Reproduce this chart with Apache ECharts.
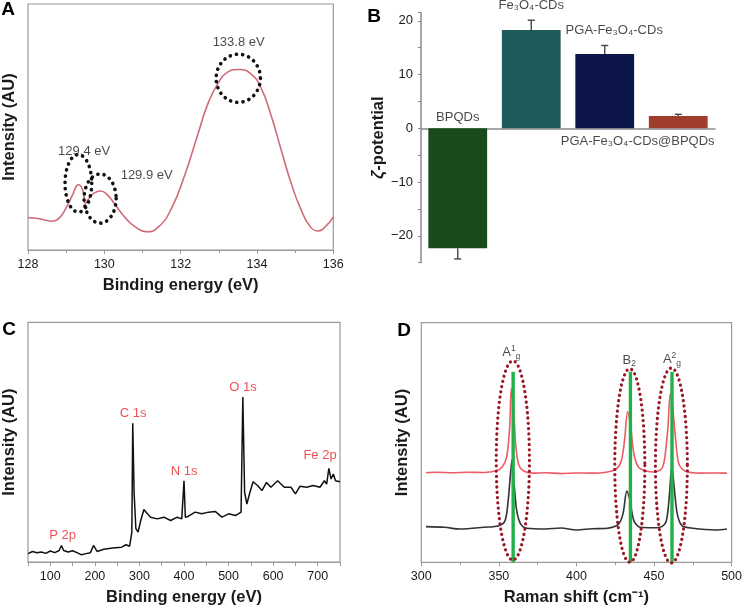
<!DOCTYPE html>
<html>
<head>
<meta charset="utf-8">
<script src="https://cdn.jsdelivr.net/npm/echarts@6.0.0/dist/echarts.min.js"></script>
<style>
html, body { margin: 0; padding: 0; background: #fff; }
#chart { width: 745px; height: 609px; }
</style>
</head>
<body>
<div id="chart"></div>
<script>
let chart = echarts.init(document.getElementById("chart"));

// A - P 2p XPS
let xpsPEnergy = [128.0, 128.3, 128.6, 128.82, 128.99, 129.17, 129.32, 129.43, 129.51, 129.6, 129.73, 129.9, 130.08, 130.29, 130.55, 130.81, 131.11, 131.42, 131.76, 132.11, 132.45, 132.71, 132.97, 133.23, 133.54, 133.84, 134.1, 134.36, 134.62, 134.88, 135.14, 135.4, 135.61, 135.83, 136.0];
let xpsPIntensity = [13.1, 12.7, 11.7, 13.1, 16.9, 22.4, 26.5, 24.6, 19.0, 21.0, 23.1, 24.0, 22.4, 18.3, 13.1, 9.4, 7.4, 9.4, 16.9, 30.6, 47.0, 59.3, 67.5, 72.3, 73.4, 71.6, 66.1, 55.2, 41.5, 27.9, 16.9, 9.4, 7.7, 10.1, 13.5];
// dotted circles: [centre x, centre y, radius x, radius y]
let xpsCircles = [[133.51, 69.8, 0.58, 9.8], [129.32, 27.1, 0.35, 11.7], [129.89, 20.9, 0.42, 10.0]];
let xpsPeakNames = ["133.8 eV", "129.4 eV", "129.9 eV"];
let xpsPeakLabelPos = [[133.52, 84.2], [129.47, 40.2], [131.11, 30.4]];

// B - zeta potential
let samples = ["BPQDs", "Fe₃O₄-CDs", "PGA-Fe₃O₄-CDs", "PGA-Fe₃O₄-CDs@BPQDs"];
let zeta = [-22.3, 18.3, 13.8, 2.3];
let zetaErr = [2.0, 1.8, 1.6, 0.3];
let barColors = ["#184a1c", "#1f5b5a", "#0d1648", "#a03e2d"];

// C - survey XPS
let surveyEnergy = [50, 60, 70, 80, 90, 100, 110, 120, 125, 130, 140, 150, 160, 170, 180, 190, 197, 205, 220, 240, 260, 270, 278, 283, 285, 288, 292, 297, 303, 310, 318, 325, 340, 355, 370, 385, 395, 400, 403, 410, 425, 440, 455, 470, 485, 500, 515, 522, 528, 532, 536, 541, 548, 555, 565, 575, 585, 595, 610, 625, 640, 650, 660, 675, 690, 705, 715, 720, 725, 730, 735, 740, 750];
let surveyIntensity = [3.5, 4.4, 3.9, 4.2, 3.6, 4.6, 3.9, 4.8, 6.9, 4.8, 4.2, 4.7, 3.9, 3.0, 3.5, 3.9, 6.9, 4.4, 5.3, 5.8, 6.2, 7.2, 6.6, 12.5, 57.9, 29.1, 13.9, 12.5, 17.3, 21.9, 20.1, 18.7, 18.0, 18.7, 17.3, 18.7, 18.0, 33.9, 18.7, 19.1, 20.8, 20.1, 20.8, 21.1, 18.7, 20.1, 19.4, 20.1, 20.8, 68.8, 29.1, 24.2, 29.1, 33.5, 31.9, 29.8, 33.2, 31.2, 33.9, 31.2, 31.2, 28.4, 31.6, 31.2, 31.9, 31.2, 33.9, 32.5, 39.1, 34.6, 36.7, 33.9, 33.5];
let surveyNames = ["P 2p", "C 1s", "N 1s", "O 1s", "Fe 2p"];
let surveyLabelPos = [[127.8, 11.1], [285.6, 62.0], [400.4, 37.8], [532.2, 72.9], [705.2, 44.6]];

// D - Raman
let ramanRedShift = [303, 310, 320, 330, 340, 348, 352, 355, 357, 358, 359.5, 361, 363, 366, 372, 380, 390, 400, 410, 420, 426, 429, 431, 433, 435, 437, 440, 445, 450, 455, 457, 459, 460.5, 462, 464, 466, 470, 480, 490, 497];
let ramanRedInt = [37.4, 37.6, 37.4, 37.6, 37.5, 38.1, 39.7, 43.9, 56.5, 72.5, 63.5, 48.1, 40.4, 38.1, 37.2, 37.4, 37.0, 37.3, 37.2, 37.7, 39.1, 42.5, 50.9, 62.8, 56.5, 45.3, 39.7, 38.1, 37.7, 39.1, 43.9, 56.5, 70.4, 64.9, 50.9, 41.1, 38.1, 37.2, 37.3, 37.2];
let ramanBlackShift = [303, 315, 325, 340, 350, 354, 356, 357.5, 358.5, 360, 361.5, 364, 368, 380, 390, 400, 410, 420, 427, 430, 432.5, 434.5, 437, 441, 450, 455, 458, 460, 461.5, 463, 465, 468, 475, 490, 497];
let ramanBlackInt = [14.9, 14.6, 13.9, 14.6, 15.3, 17.4, 25.8, 37.0, 42.8, 31.4, 21.6, 16.0, 14.2, 13.9, 14.3, 13.5, 14.0, 14.2, 15.8, 20.2, 29.7, 25.8, 17.4, 14.6, 14.4, 14.9, 17.4, 28.6, 40.4, 31.4, 20.2, 15.3, 14.2, 13.5, 13.9];
let ramanModeShift = [359.2, 434.8, 461.6];
let ramanModeTop = [79.5, 79.5, 79.5];
let ramanCircles = [[359.0, 42.5, 10.7, 41.6], [434.4, 40.4, 9.7, 40.4], [461.2, 40.4, 10.3, 40.7]];
let ramanModeNames = ["{a|A}{sup|1}{sub|g}", "{a|B}{sub|2}", "{a|A}{sup|2}{sub|g}"];
let ramanLabelPos = [[358, 87.4], [434, 84.4], [461.6, 84.7]];

const font = "Liberation Sans, Arial, sans-serif";
const frame = "#9a9a9a";
const ink = "#1a1a1a";

function zip(xs, ys) {
	return xs.map((x, i) => [x, ys[i]]);
}

function ellipse(color, width, gap) {
	return function(params, api) {
		let c = api.coord([api.value(0), api.value(1)]);
		let s = api.size([api.value(2), api.value(3)]);
		let pts = [];
		for (let k = 0; k < 90; k++) {
			let t = k / 90 * Math.PI * 2;
			pts.push([c[0] + s[0] * Math.cos(t), c[1] + s[1] * Math.sin(t)]);
		}
		return {type: "polygon", shape: {points: pts},
			style: {fill: "none", stroke: color, lineWidth: width, lineDash: [0.1, gap], lineCap: "round"}};
	};
}

function boxAxisX(grid, min, max, interval, name, fmt, minor) {
	return {
		gridIndex: grid, type: "value", min, max, interval,
		axisLine: {show: true, lineStyle: {color: frame, width: 1.2}},
		axisTick: {show: true, length: 4, lineStyle: {color: frame}},
		minorTick: {show: !!minor, splitNumber: 2, length: 3, lineStyle: {color: frame}},
		splitLine: {show: false},
		axisLabel: {color: ink, fontSize: 12.5, margin: 8, formatter: fmt},
		name, nameLocation: "middle", nameGap: 27,
		nameTextStyle: {color: ink, fontWeight: "bold", fontSize: 16.5}
	};
}

function boxAxisY(grid) {
	return {
		gridIndex: grid, type: "value", min: 0, max: 100,
		axisLine: {show: false}, axisTick: {show: false}, axisLabel: {show: false}, splitLine: {show: false},
		name: "Intensity (AU)", nameLocation: "middle", nameGap: 10,
		nameTextStyle: {color: ink, fontWeight: "bold", fontSize: 16.5}
	};
}

let labelSeries = (xi, yi, pos, names, color, size, rich) => ({
	type: "scatter", xAxisIndex: xi, yAxisIndex: yi, symbolSize: 1, silent: true,
	itemStyle: {color: "rgba(0,0,0,0)"}, z: 10,
	data: pos.map((p, i) => ({value: p, name: names[i]})),
	label: {show: true, position: "inside", formatter: "{b}", color, fontSize: size, rich}
});

let option = {
	animation: false,
	backgroundColor: "#fff",
	textStyle: {fontFamily: font},
	grid: [
		{left: 25.7, top: 4, width: 307.6, height: 246, show: true, borderColor: frame, borderWidth: 1.2},
		{left: 421, top: 12.7, width: 294, height: 250},
		{left: 25.7, top: 322.3, width: 314.3, height: 239.7, show: true, borderColor: frame, borderWidth: 1.2},
		{left: 421.3, top: 322.7, width: 312.4, height: 239.6, show: true, borderColor: frame, borderWidth: 1.2}
	],
	xAxis: [
		boxAxisX(0, 128, 136, 2, "Binding energy (eV)", null, true),
		{
			gridIndex: 1, type: "category", data: samples,
			axisLine: {onZero: true, lineStyle: {color: "#8a8a8a", width: 1.5}},
			axisTick: {show: false}, axisLabel: {show: false}
		},
		boxAxisX(2, 50, 750, 50, "Binding energy (eV)", v => (v % 100 === 0 ? String(v) : ""), false),
		boxAxisX(3, 300, 500, 50, "Raman shift (cm⁻¹)", null, true)
	],
	yAxis: [
		boxAxisY(0),
		{
			gridIndex: 1, type: "value", min: -25, max: 21.5, interval: 5,
			axisLine: {show: true, lineStyle: {color: "#8a8a8a", width: 1.5}},
			axisTick: {show: true, length: 3, lineStyle: {color: "#8a8a8a"}},
			splitLine: {show: false},
			axisLabel: {color: ink, fontSize: 13, margin: 8,
				formatter: v => (v % 10 === 0 ? String(v).replace("-", "\u2212") : "")},
			name: "{z|ζ}-potential", nameLocation: "middle", nameGap: 34,
			nameTextStyle: {color: ink, fontWeight: "bold", fontSize: 16.5,
				rich: {z: {fontStyle: "italic", fontWeight: "bold", fontSize: 17, color: ink}}}
		},
		boxAxisY(2),
		boxAxisY(3)
	],
	graphic: [
		{type: "text", x: 8, y: 10, style: {text: "A", font: "bold 19px " + font, fill: "#000", align: "center", verticalAlign: "middle"}},
		{type: "text", x: 374, y: 17, style: {text: "B", font: "bold 19px " + font, fill: "#000", align: "center", verticalAlign: "middle"}},
		{type: "text", x: 9, y: 330, style: {text: "C", font: "bold 19px " + font, fill: "#000", align: "center", verticalAlign: "middle"}},
		{type: "text", x: 404, y: 331, style: {text: "D", font: "bold 19px " + font, fill: "#000", align: "center", verticalAlign: "middle"}}
	],
	series: [
		// A
		{type: "line", xAxisIndex: 0, yAxisIndex: 0, data: zip(xpsPEnergy, xpsPIntensity), smooth: true,
			symbol: "none", lineStyle: {color: "#cf6b78", width: 1.6}},
		{type: "custom", xAxisIndex: 0, yAxisIndex: 0, data: xpsCircles, renderItem: ellipse("#111", 3.6, 6.2), z: 5},
		labelSeries(0, 0, xpsPeakLabelPos, xpsPeakNames, ink, 13),
		// B
		{type: "bar", xAxisIndex: 1, yAxisIndex: 1, barWidth: "80%",
			data: zeta.map((v, i) => ({value: v, itemStyle: {color: barColors[i]}}))},
		{type: "custom", xAxisIndex: 1, yAxisIndex: 1, z: 4,
			data: zeta.map((v, i) => [i, v, v + Math.sign(v) * zetaErr[i]]),
			renderItem: function(params, api) {
				let a = api.coord([api.value(0), api.value(1)]);
				let b = api.coord([api.value(0), api.value(2)]);
				let st = {stroke: "#444", lineWidth: 1.4};
				return {type: "group", children: [
					{type: "line", shape: {x1: a[0], y1: a[1], x2: b[0], y2: b[1]}, style: st},
					{type: "line", shape: {x1: b[0] - 3.5, y1: b[1], x2: b[0] + 3.5, y2: b[1]}, style: st}
				]};
			}},
		{type: "scatter", xAxisIndex: 1, yAxisIndex: 1, symbolSize: 1, silent: true, z: 10,
			itemStyle: {color: "rgba(0,0,0,0)"},
			data: zeta.map((v, i) => {
				let top = i > 0 && i < 3;
				let lab = {show: true, color: ink, fontSize: 13, formatter: "{b}"};
				if (i === 0) Object.assign(lab, {position: "top", distance: 4});
				if (i === 1) Object.assign(lab, {position: "top", distance: 8});
				if (i === 2) Object.assign(lab, {position: "top", distance: 8, offset: [9.5, 0]});
				if (i === 3) Object.assign(lab, {position: "bottom", distance: 6, offset: [-40.6, 0]});
				return {name: samples[i], value: [i, top ? v + zetaErr[i] : 0], label: lab};
			})},
		// C
		{type: "line", xAxisIndex: 2, yAxisIndex: 2, data: zip(surveyEnergy, surveyIntensity),
			symbol: "none", lineStyle: {color: "#111", width: 1.5}},
		labelSeries(2, 2, surveyLabelPos, surveyNames, "#e8262a", 13),
		// D
		{type: "line", xAxisIndex: 3, yAxisIndex: 3, data: zip(ramanRedShift, ramanRedInt), smooth: 0.3,
			symbol: "none", lineStyle: {color: "#ee5c63", width: 1.6}},
		{type: "line", xAxisIndex: 3, yAxisIndex: 3, data: zip(ramanBlackShift, ramanBlackInt), smooth: 0.3,
			symbol: "none", lineStyle: {color: "#333", width: 1.6}},
		{type: "custom", xAxisIndex: 3, yAxisIndex: 3, z: 4,
			data: ramanModeShift.map((x, i) => [x, ramanModeTop[i]]),
			renderItem: function(params, api) {
				let a = api.coord([api.value(0), 0]);
				let b = api.coord([api.value(0), api.value(1)]);
				return {type: "line", shape: {x1: a[0], y1: a[1], x2: b[0], y2: b[1]},
					style: {stroke: "#22b04b", lineWidth: 3.4}};
			}},
		{type: "custom", xAxisIndex: 3, yAxisIndex: 3, data: ramanCircles, renderItem: ellipse("#9b1626", 3.2, 5.2), z: 5},
		labelSeries(3, 3, ramanLabelPos, ramanModeNames, ink, 13, {
			a: {fontSize: 13, color: ink, lineHeight: 17},
			sup: {fontSize: 8.5, color: ink, verticalAlign: "top", lineHeight: 9},
			sub: {fontSize: 8.5, color: ink, verticalAlign: "bottom", lineHeight: 9}
		})
	]
};

chart.setOption(option);
</script>
</body>
</html>
